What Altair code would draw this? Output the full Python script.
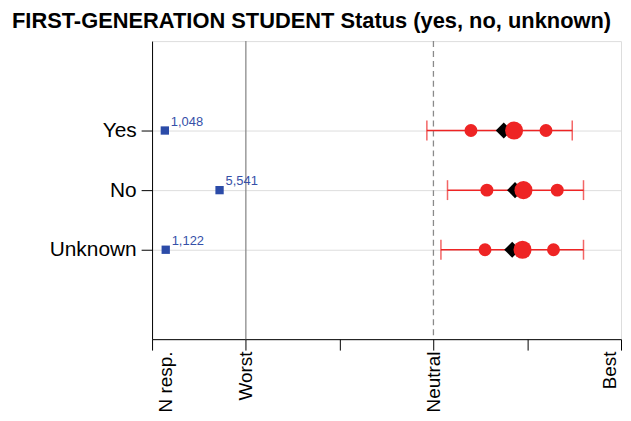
import altair as alt
import pandas as pd

# ---- data ----
categories = ["Yes", "No", "Unknown"]
n_resp = [1048, 5541, 1122]
ci_low = [2.93, 3.15, 3.08]
ci_high = [4.48, 4.60, 4.60]
q_low = [3.40, 3.57, 3.55]
median = [3.86, 3.96, 3.95]
q_high = [4.20, 4.32, 4.28]
mean = [3.75, 3.87, 3.84]

tick_values = [0, 1, 2, 3, 4, 5]
tick_labels = ["N resp.", "Worst", "", "Neutral", "", "Best"]
n_scale_max = 7700  # N responses drawn on the 0..1 segment (N resp. -> Worst)

df = pd.DataFrame({
    "cat": categories,
    "idx": list(range(len(categories))),
    "n": n_resp,
    "npos": [v / n_scale_max for v in n_resp],
    "lo": ci_low, "hi": ci_high,
    "q1": q_low, "med": median, "q3": q_high, "mean": mean,
})
ref_df = pd.DataFrame({"name": ["Worst", "Neutral"], "v": [1, 3]})

FONT = "Liberation Sans"
RED = "#EE2424"
BLUE = "#2B4BA8"

x_label_expr = "[" + ",".join(f"'{t}'" for t in tick_labels) + "][datum.value]"
y_label_expr = "[" + ",".join(f"'{t}'" for t in categories) + "][datum.value]"

xscale = alt.Scale(domain=[0, 5], nice=False, zero=False)
yscale = alt.Scale(domain=[len(categories) + 0.5, -1.5], nice=False, zero=False)

yenc = alt.Y("idx:Q", scale=yscale, title=None,
             axis=alt.Axis(values=list(range(len(categories))), labelExpr=y_label_expr,
                           grid=True, gridColor="#dddddd", labelFontSize=21,
                           labelFont=FONT, labelColor="black", tickSize=11,
                           labelPadding=5, domainColor="black", tickColor="black"))

base = alt.Chart(df)

axis_layer = base.mark_point(opacity=0).encode(
    x=alt.X("mean:Q", scale=xscale, title=None,
            axis=alt.Axis(values=tick_values, labelExpr=x_label_expr, labelAngle=270,
                          grid=False, labelFontSize=19, labelFont=FONT,
                          labelColor="black", tickSize=11, labelPadding=1,
                          labelOffset={"condition": [{"test": "datum.value == 0", "value": 14},
                                                     {"test": "datum.value == 5", "value": -12}],
                                       "value": 0},
                          domainColor="black", tickColor="black")),
    y=yenc,
)

worst = alt.Chart(ref_df).transform_filter("datum.name == 'Worst'").mark_rule(
    color="#8a8a8a", strokeWidth=1.3).encode(x=alt.X("v:Q", scale=xscale))
neutral = alt.Chart(ref_df).transform_filter("datum.name == 'Neutral'").mark_rule(
    color="#8a8a8a", strokeWidth=1.3, strokeDash=[6, 4]).encode(x=alt.X("v:Q", scale=xscale))

bar = base.mark_rule(color=RED, strokeWidth=1.5).encode(
    x=alt.X("lo:Q", scale=xscale), x2="hi:Q", y=yenc)
cap_lo = base.mark_tick(color=RED, size=20, thickness=1.5, orient="vertical").encode(
    x=alt.X("lo:Q", scale=xscale), y=yenc)
cap_hi = base.mark_tick(color=RED, size=20, thickness=1.5, orient="vertical").encode(
    x=alt.X("hi:Q", scale=xscale), y=yenc)
diamond = base.mark_point(shape="diamond", filled=True, color="black", size=260, opacity=1).encode(
    x=alt.X("mean:Q", scale=xscale), y=yenc)
c1 = base.mark_circle(color=RED, size=170, opacity=1).encode(
    x=alt.X("q1:Q", scale=xscale), y=yenc)
c3 = base.mark_circle(color=RED, size=170, opacity=1).encode(
    x=alt.X("q3:Q", scale=xscale), y=yenc)
cm = base.mark_circle(color=RED, size=330, opacity=1).encode(
    x=alt.X("med:Q", scale=xscale), y=yenc)

nsq = base.mark_square(color=BLUE, size=70, opacity=1).encode(
    x=alt.X("npos:Q", scale=xscale), y=yenc)
ntext = base.mark_text(align="left", baseline="alphabetic", dx=6, dy=-5,
                       fontSize=13, font=FONT, color="#3550A8").encode(
    x=alt.X("npos:Q", scale=xscale), y=yenc, text=alt.Text("n:Q", format=",d"))

chart = alt.layer(axis_layer, worst, neutral, bar, cap_lo, cap_hi, diamond, c1, c3, cm,
                  nsq, ntext).properties(
    width=472, height=300,
    title=alt.TitleParams("FIRST-GENERATION STUDENT Status (yes, no, unknown)",
                          fontSize=22, fontWeight="bold", font=FONT, color="black",
                          anchor="start", frame="group", dx=-141, offset=8),
    padding={"left": 145, "top": 32, "right": 2, "bottom": 73},
    autosize=alt.AutoSizeParams(type="none"),
).configure_view(stroke="black", strokeWidth=1).configure(background="white")

chart.save("out.html", embed_options={"renderer": "svg", "actions": False})
